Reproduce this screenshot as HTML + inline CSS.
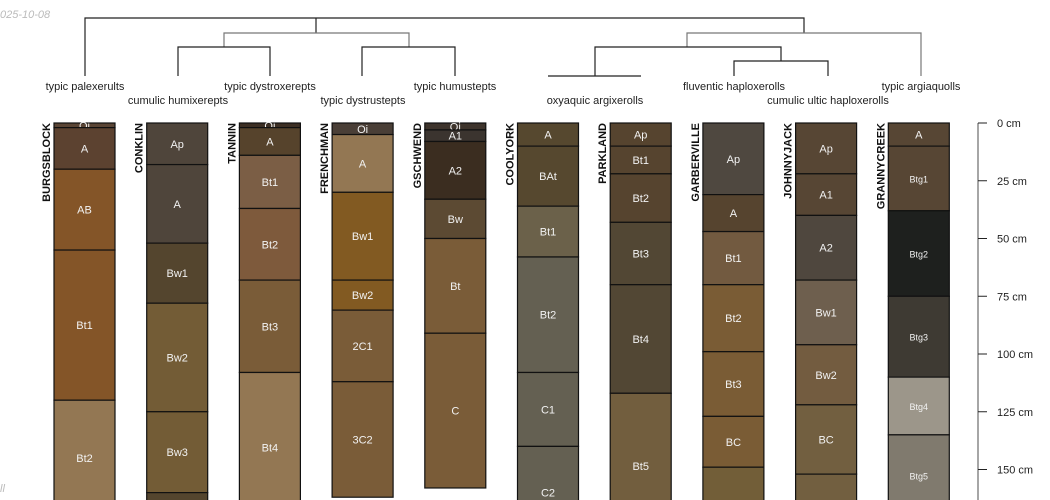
<!DOCTYPE html>
<html><head><meta charset="utf-8"><style>
html,body{margin:0;background:#fff;overflow:hidden;width:1050px;height:500px}
svg{display:block;font-family:"Liberation Sans",sans-serif;overflow:hidden}
</style></head><body>
<svg id="c" width="1050" height="500" viewBox="0 0 1050 500">
<text x="0" y="18" font-size="11" font-style="italic" fill="#bbb">025-10-08</text>
<text x="0" y="492" font-size="11" font-style="italic" fill="#bbb">ll</text>
<g id="dendro" fill="none" stroke-width="1.2">
<path d="M85 76V18H804V33" stroke="#222"/>
<path d="M316 18V33" stroke="#222"/>
<path d="M224 47V33H409V47" stroke="#777"/>
<path d="M178 76V47H270V76M362 76V47H455V76" stroke="#222"/>
<path d="M687 47V33H921V76" stroke="#777"/>
<path d="M595 76V47H781V61M548 76H641M734 76V61H828V76" stroke="#222"/>
</g>
<g id="tax" font-size="11" fill="#222" text-anchor="middle"></g>
<g id="profiles"></g>
<g id="axis"></g>
</svg>
<script>
const names=["BURGSBLOCK","CONKLIN","TANNIN","FRENCHMAN","GSCHWEND","COOLYORK","PARKLAND","GARBERVILLE","JOHNNYJACK","GRANNYCREEK"];
const taxa=["typic palexerults","cumulic humixerepts","typic dystroxerepts","typic dystrustepts","typic humustepts","oxyaquic argixerolls","fluventic haploxerolls","cumulic ultic haploxerolls","typic argiaquolls"];
const taxaX=[85,178,270,363,455,595,734,828,921];
const hzNames=[
["Oi","A","AB","Bt1","Bt2"],
["Ap","A","Bw1","Bw2","Bw3",""],
["Oi","A","Bt1","Bt2","Bt3","Bt4"],
["Oi","A","Bw1","Bw2","2C1","3C2"],
["Oi","A1","A2","Bw","Bt","C"],
["A","BAt","Bt1","Bt2","C1","C2"],
["Ap","Bt1","Bt2","Bt3","Bt4","Bt5"],
["Ap","A","Bt1","Bt2","Bt3","BC",""],
["Ap","A1","A2","Bw1","Bw2","BC",""],
["A","Btg1","Btg2","Btg3","Btg4","Btg5"]];
const hzBottoms=[
[2,20,55,120,170],
[18,52,78,125,160,200],
[2,14,37,68,108,173],
[5,30,68,81,112,162],
[3,8,33,50,91,158],
[10,36,58,108,140,180],
[10,22,43,70,117,180],
[31,47,70,99,127,149,200],
[22,40,68,96,122,152,200],
[10,38,75,110,135,170]];
const hzColors=[
["#5a4535","#5c4230","#845528","#845528","#937753"],
["#4f453b","#4f453b","#54452e","#735c36","#735c36","#54452e"],
["#3c2f24","#56432c","#7b5e45","#7e5a3c","#7a5c38","#937753"],
["#4a3f37","#937753","#825a22","#825a22","#7a5c38","#7a5c38"],
["#3e342c","#3b342f","#3b2d20","#5c4a33","#7a5c38","#7a5c38"],
["#56482f","#56482f","#6b614a","#646052","#646052","#646052"],
["#56442f","#56442f","#56442f","#524734","#524734","#725e3e"],
["#4f4840","#56442f","#725a40","#7a5c35","#7a5c35","#7a5c35","#725e38"],
["#574634","#574634","#4f473e","#6e5f4e","#735c40","#725f40","#725f40"],
["#574634","#574634","#1e201e","#3e3a33","#9c968a","#807a6e"]];
const ticks=[0,25,50,75,100,125,150];
const NS="http://www.w3.org/2000/svg";
const y=d=>123+d*2.31;
const px=i=>54+i*92.7;
const W=61;
function mk(t,a,p){const e=document.createElementNS(NS,t);for(const k in a)e.setAttribute(k,a[k]);p.appendChild(e);return e;}
const tax=document.getElementById('tax');
taxa.forEach((t,i)=>{const e=mk('text',{x:taxaX[i],y:i%2?104:90},tax);e.textContent=t;

});
const pg=document.getElementById('profiles');
names.forEach((n,i)=>{
 const g=mk('g',{},pg);
 
 
 const x=px(i);
 let top=0;
 hzNames[i].forEach((h,j)=>{
  const b=hzBottoms[i][j];
  const y0=y(top), y1=Math.min(y(b),501);
  if(y0<500){
   const r=mk('rect',{x:x,y:y0,width:W,height:y1-y0,fill:hzColors[i][j],stroke:'#111','stroke-width':1.2},g);
   
   
  }
  const ly=(y(top)+y(b))/2+4;
  if(h && ly<498){const t=mk('text',{x:x+W/2,y:ly,'text-anchor':'middle','font-size':(i==9&&j>0)?9:11,fill:'#f2f2f2'},g);t.textContent=h;
  
  }
  top=b;
 });
 const nt=mk('text',{x:0,y:0,'font-size':11,'font-weight':'bold',fill:'#111','text-anchor':'end',transform:`translate(${x-4},123) rotate(-90)`},g);
 nt.textContent=n;
 
 
});
const ax=document.getElementById('axis');
mk('line',{x1:978,y1:123,x2:978,y2:500,stroke:'#888','stroke-width':1.5},ax);
ticks.forEach(t=>{
 mk('line',{x1:978,y1:y(t),x2:987,y2:y(t),stroke:'#222','stroke-width':1},ax);
 const e=mk('text',{x:997,y:y(t)+4,'font-size':11,fill:'#222'},ax);e.textContent=t+' cm';
 
 
});
</script>
</body></html>
